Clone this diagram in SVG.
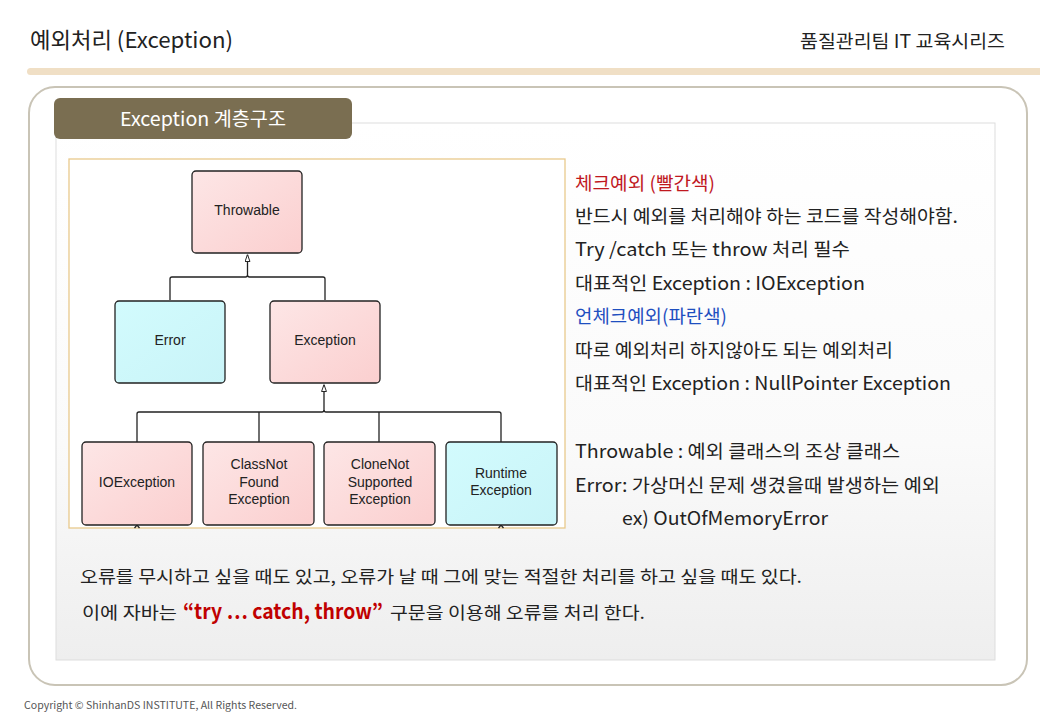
<svg xmlns="http://www.w3.org/2000/svg" width="1040" height="720" viewBox="0 0 1040 720">
<defs>
<linearGradient id="pink" x1="0" y1="0" x2="1" y2="1"><stop offset="0" stop-color="#fde6e6"/><stop offset="1" stop-color="#fbcfcf"/></linearGradient>
<linearGradient id="cyan" x1="0" y1="0" x2="1" y2="1"><stop offset="0" stop-color="#d2fbfd"/><stop offset="1" stop-color="#c9f4f8"/></linearGradient>
<linearGradient id="panel" x1="0" y1="0" x2="0" y2="1"><stop offset="0" stop-color="#ffffff"/><stop offset="0.6" stop-color="#fafafa"/><stop offset="1" stop-color="#eeeeee"/></linearGradient>
<marker id="tri" viewBox="0 0 10 8" refX="10" refY="4" markerWidth="7" markerHeight="6" markerUnits="userSpaceOnUse" orient="auto"><path d="M10,4 L0,0.5 L0,7.5 Z" fill="#fff" stroke="#222" stroke-width="1.4"/></marker>
</defs>
<style>
.kr{font-family:"Noto Sans CJK KR","Noto Sans",sans-serif;}
.node{stroke:#222;stroke-width:1.3;}
.lbl{font-family:"Liberation Sans",Arial,sans-serif;font-size:14px;fill:#222;text-anchor:middle;}
.conn{fill:none;stroke:#222;stroke-width:1.3;}
.side{font-family:"Noto Sans CJK KR","Noto Sans",sans-serif;font-size:18.5px;fill:#222;}
</style>
<rect width="1040" height="720" fill="#fff"/>
<!-- header -->
<text class="kr" x="30" y="48" font-size="22" fill="#222" textLength="203" lengthAdjust="spacingAndGlyphs">예외처리 (Exception)</text>
<text class="kr" x="800" y="48" font-size="18" fill="#222" textLength="205" lengthAdjust="spacingAndGlyphs">품질관리팀 IT 교육시리즈</text>
<rect x="27" y="68" width="1020" height="7" rx="3.5" fill="#f0dfc5"/>
<!-- outer panel -->
<rect x="29" y="87" width="998" height="598" rx="26" fill="#fff" stroke="#c9c4b6" stroke-width="2"/>
<rect x="56" y="123" width="939" height="537" fill="url(#panel)" stroke="#dddddd" stroke-width="1"/>
<g id="tab">
<rect x="54" y="98" width="298" height="41" rx="6" fill="#7a6e51"/>
<text class="kr" x="120" y="126" font-size="19" fill="#fff" textLength="166" lengthAdjust="spacingAndGlyphs">Exception 계층구조</text>
</g>
<!-- diagram box -->
<rect x="69" y="159" width="496" height="369" fill="#fff" stroke="#e9c98c" stroke-width="1.3"/>
<g id="connectors">
<path class="conn" d="M170,300 V279 Q170,277 172,277 H245.5 Q247.5,277 247.5,275 V254.5" marker-end="url(#tri)"/>
<path class="conn" d="M325,300 V279 Q325,277 323,277 H249.5 Q247.5,277 247.5,275"/>
<path class="conn" d="M137,442 V414 Q137,412 139,412 H322 Q324,412 324,410 V384.5" marker-end="url(#tri)"/>
<path class="conn" d="M259,442 V412"/>
<path class="conn" d="M379,442 V412"/>
<path class="conn" d="M501,442 V414 Q501,412 499,412 H326 Q324,412 324,410"/>
<path class="conn" d="M134.5,528 L137,525 L139.5,528"/>
<path class="conn" d="M498.5,528 L501,525 L503.5,528"/>
</g>
<g id="throwable"><rect class="node" x="192" y="171" width="110" height="82" rx="4" fill="url(#pink)"/><text class="lbl" x="247" y="215">Throwable</text></g>
<g id="error"><rect class="node" x="115" y="301" width="110" height="82" rx="4" fill="url(#cyan)"/><text class="lbl" x="170" y="345">Error</text></g>
<g id="exception"><rect class="node" x="270" y="301" width="110" height="82" rx="4" fill="url(#pink)"/><text class="lbl" x="325" y="345">Exception</text></g>
<g id="ioexception"><rect class="node" x="82" y="442" width="110" height="83" rx="4" fill="url(#pink)"/><text class="lbl" x="137" y="487">IOException</text></g>
<g id="classnotfound"><rect class="node" x="203" y="442" width="111" height="83" rx="4" fill="url(#pink)"/><text class="lbl" x="259" y="469">ClassNot</text><text class="lbl" x="259" y="487">Found</text><text class="lbl" x="259" y="504">Exception</text></g>
<g id="clonenotsupported"><rect class="node" x="324" y="442" width="111" height="83" rx="4" fill="url(#pink)"/><text class="lbl" x="380" y="469">CloneNot</text><text class="lbl" x="380" y="487">Supported</text><text class="lbl" x="380" y="504">Exception</text></g>
<g id="runtime"><rect class="node" x="446" y="442" width="111" height="83" rx="4" fill="url(#cyan)"/><text class="lbl" x="501" y="478">Runtime</text><text class="lbl" x="501" y="495">Exception</text></g>
<!-- side text -->
<g id="notes">
<text class="side" x="575" y="190" style="fill:#c0181e" textLength="140" lengthAdjust="spacingAndGlyphs">체크예외 (빨간색)</text>
<text class="side" x="575" y="223" textLength="383" lengthAdjust="spacingAndGlyphs">반드시 예외를 처리해야 하는 코드를 작성해야함.</text>
<text class="side" x="575" y="256" textLength="275" lengthAdjust="spacingAndGlyphs">Try /catch  또는 throw 처리 필수</text>
<text class="side" x="575" y="290" textLength="290" lengthAdjust="spacingAndGlyphs">대표적인 Exception : IOException</text>
<text class="side" x="575" y="323" style="fill:#1f4fc0" textLength="152" lengthAdjust="spacingAndGlyphs">언체크예외(파란색)</text>
<text class="side" x="575" y="357" textLength="318" lengthAdjust="spacingAndGlyphs">따로 예외처리 하지않아도 되는 예외처리</text>
<text class="side" x="575" y="390" textLength="376" lengthAdjust="spacingAndGlyphs">대표적인 Exception : NullPointer Exception</text>
<text class="side" x="575" y="458" textLength="325" lengthAdjust="spacingAndGlyphs">Throwable : 예외 클래스의  조상 클래스</text>
<text class="side" x="575" y="492" textLength="365" lengthAdjust="spacingAndGlyphs">Error: 가상머신 문제 생겼을때  발생하는  예외</text>
<text class="side" x="622" y="525" textLength="206" lengthAdjust="spacingAndGlyphs">ex) OutOfMemoryError</text>
</g>
<g id="summary">
<text class="kr" x="80" y="583" font-size="17" fill="#222" textLength="722" lengthAdjust="spacingAndGlyphs">오류를 무시하고 싶을 때도 있고, 오류가 날 때 그에 맞는 적절한 처리를 하고 싶을 때도 있다.</text>
<text class="kr" x="82" y="619" font-size="17" fill="#222" textLength="95" lengthAdjust="spacingAndGlyphs">이에 자바는</text>
<text class="kr" x="183" y="619" font-size="21" font-weight="bold" fill="#c00000" textLength="200" lengthAdjust="spacingAndGlyphs">“try … catch, throw”</text>
<text class="kr" x="390" y="619" font-size="17" fill="#222" textLength="255" lengthAdjust="spacingAndGlyphs">구문을 이용해 오류를 처리 한다.</text>
</g>
<text class="kr" x="24" y="709" font-size="10" fill="#555" textLength="273" lengthAdjust="spacingAndGlyphs">Copyright © ShinhanDS INSTITUTE, All Rights Reserved.</text>
</svg>
